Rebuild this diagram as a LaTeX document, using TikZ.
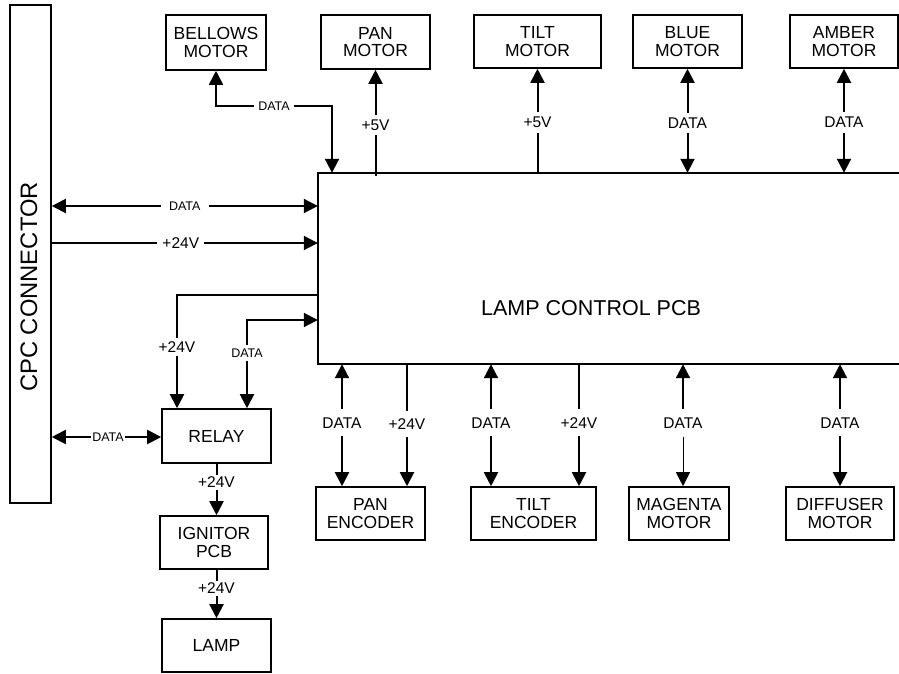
\documentclass[tikz,border=0pt]{standalone}
\usepackage{fontspec}
\setmainfont{Liberation Sans}
\usetikzlibrary{arrows.meta,calc}
\begin{document}
\begin{tikzpicture}[x=1pt,y=-1pt,
  box/.style={draw,line width=1.6pt,inner sep=0pt,align=center,font=\fontsize{17.5}{17.5}\selectfont},
  conn/.style={line width=2pt},
  tipa/.tip={Triangle[length=14pt,width=14pt]},
  arr/.style={conn,-tipa},
  darr/.style={conn,tipa-tipa},
  lbl/.style={fill=white,inner xsep=3pt,inner ysep=5pt,font=\fontsize{15.5}{15.5}\selectfont},
  blbl/.style={lbl,inner ysep=8pt},
  slbl/.style={fill=white,inner xsep=4pt,inner ysep=4pt,font=\fontsize{12.5}{12.5}\selectfont},
]
\useasboundingbox (0,0) rectangle (899,673);

% main blocks
\node[box,minimum width=41pt,minimum height=498pt] (cpc) at (30.5,254) {};
\node[font=\fontsize{23.8}{23.8}\selectfont,rotate=90] (cpct) at (29,287) {CPC CONNECTOR};
\node[inner sep=0pt,minimum width=581pt,minimum height=191pt] (pcb) at (608.5,268.5) {};
\draw[line width=1.6pt] (pcb.north east) -- (pcb.north west) -- (pcb.south west) -- (pcb.south east);
\node[font=\fontsize{21.5}{21.5}\selectfont] (pcbt) at (591,308) {LAMP CONTROL PCB};

% top boxes
\node[box,minimum width=100pt,minimum height=55pt] (bellows) at (216,42.5) {BELLOWS\\MOTOR};
\node[box,minimum width=109pt,minimum height=54pt] (panm) at (375.5,42) {PAN\\MOTOR};
\node[box,minimum width=127pt,minimum height=53pt] (tiltm) at (537.5,41.5) {TILT\\MOTOR};
\node[box,minimum width=109pt,minimum height=53pt] (bluem) at (687.5,41.5) {BLUE\\MOTOR};
\node[box,minimum width=108pt,minimum height=53pt] (amberm) at (844,41.5) {AMBER\\MOTOR};

% bottom boxes
\node[box,minimum width=109pt,minimum height=53pt] (panenc) at (370.5,513.5) {PAN\\ENCODER};
\node[box,minimum width=125pt,minimum height=53pt] (tiltenc) at (533.5,513.5) {TILT\\ENCODER};
\node[box,minimum width=100pt,minimum height=53pt] (magenta) at (679,513.5) {MAGENTA\\MOTOR};
\node[box,minimum width=108pt,minimum height=53pt] (diffuser) at (840,513.5) {DIFFUSER\\MOTOR};

% left column
\node[box,minimum width=109pt,minimum height=54pt] (relay) at (216.5,436) {RELAY};
\node[box,minimum width=108pt,minimum height=53pt] (ignitor) at (214,542.5) {IGNITOR\\PCB};
\node[box,minimum width=109pt,minimum height=53pt] (lamp) at (216.5,645.5) {LAMP};

% helper coordinates
\coordinate (belturn) at (332,106);
\coordinate (ya) at (0,206);
\coordinate (yb) at (0,243);
\coordinate (yc) at (0,295);
\coordinate (yd) at (0,320);
\coordinate (ye) at (0,437);
\coordinate (xr1) at (177,0);
\coordinate (xr2) at (247,0);
\coordinate (xp1) at (342,0);
\coordinate (xp2) at (407,0);
\coordinate (xt1) at (491,0);
\coordinate (xt2) at (579,0);
\coordinate (xm) at (683,0);
\coordinate (xd) at (840,0);

% top connectors
\draw[darr] (bellows.south) |- (belturn) -- (belturn |- pcb.north);
\node[slbl] (bellab) at (274,106) {DATA};
\draw[arr] ($(pcb.north -| panm.south)+(0,3)$) -- node[lbl,pos=0.48] (panlab) {+5V} (panm.south);
\draw[arr] (pcb.north -| tiltm.south) -- node[lbl,pos=0.486] (tiltlab) {+5V} (tiltm.south);
\draw[darr] (pcb.north -| bluem.south) -- node[lbl,pos=0.48] (bluelab) {DATA} (bluem.south);
\draw[darr] (pcb.north -| amberm.south) -- node[lbl,pos=0.486] (amberlab) {DATA} (amberm.south);

% left connectors
\draw[darr] (cpc.east |- ya) -- node[slbl,pos=0.5,inner xsep=8pt] (dlab1) {DATA} (pcb.west |- ya);
\draw[arr] (cpc.east |- yb) -- node[lbl,pos=0.485,inner xsep=5pt,inner ysep=2pt] (vlab1) {+24V} (pcb.west |- yb);
\draw[arr] (pcb.west |- yc) -| (relay.north -| xr1);
\node[lbl,inner ysep=4pt] (vlab2) at (177,347) {+24V};
\draw[darr] (relay.north -| xr2) |- (pcb.west |- yd);
\node[slbl] (dlab2) at (247,353) {DATA};
\draw[darr] (cpc.east |- ye) -- (relay.west |- ye);
\node[slbl,inner xsep=1pt] (dlab3) at (108,437) {DATA};

% relay chain
\draw[arr] (relay.south) -- node[lbl,pos=0.36,inner ysep=2pt] (vlab3) {+24V} (relay.south |- ignitor.north);
\draw[arr] (lamp.north |- ignitor.south) -- node[lbl,pos=0.38,inner ysep=2pt] (vlab4) {+24V} (lamp.north);

% bottom connectors
\draw[darr] (pcb.south -| xp1) -- node[blbl,pos=0.48] (bl1) {DATA} (panenc.north -| xp1);
\draw[arr] (pcb.south -| xp2) -- node[blbl,pos=0.49] (bl2) {+24V} (panenc.north -| xp2);
\draw[darr] (pcb.south -| xt1) -- node[blbl,pos=0.48] (bl3) {DATA} (tiltenc.north -| xt1);
\draw[arr] (pcb.south -| xt2) -- node[blbl,pos=0.48] (bl4) {+24V} (tiltenc.north -| xt2);
\node[blbl] (bl5) at (683,423) {DATA};
\draw[arr] (bl5.north) -- (pcb.south -| xm);
\draw[line width=1pt,-tipa] (bl5.south) -- (magenta.north -| xm);
\draw[darr] (pcb.south -| xd) -- node[blbl,pos=0.48] (bl6) {DATA} (diffuser.north -| xd);
\end{tikzpicture}
\end{document}
